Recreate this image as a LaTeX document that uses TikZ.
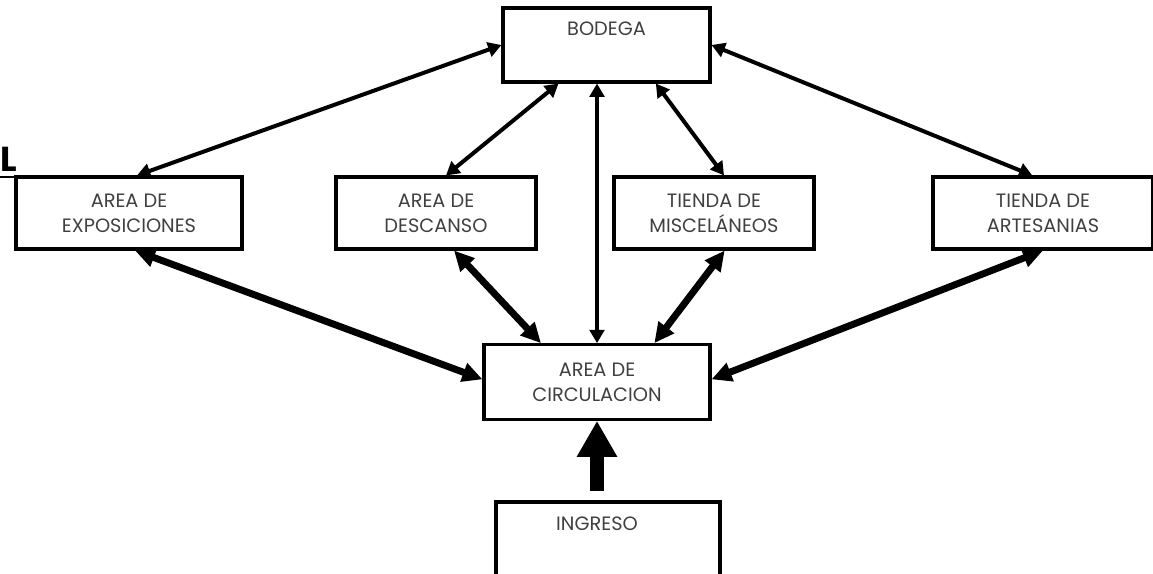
\documentclass[tikz,border=0pt]{standalone}
\usepackage{fontspec}
\setmainfont{Poppins}
\usetikzlibrary{arrows.meta,calc}
\begin{document}
\begin{tikzpicture}[x=0.75pt,y=-0.75pt,
  box/.style={draw, line width=2.3pt, minimum width=#1*0.75pt, minimum height=54pt,
    align=center, inner sep=0pt, font=\fontsize{14.5pt}{19pt}\selectfont, text=black!75},
  thinarrow/.style={line width=3pt, {Triangle[length=10pt,width=11pt]}-{Triangle[length=10pt,width=11pt]}},
  thickarrow/.style={line width=5.2pt, {Triangle[length=15pt,width=14pt]}-{Triangle[length=15pt,width=14pt]}},
  bigarrow/.style={line width=10.5pt, -{Triangle[length=27pt,width=28.5pt]}},
  lbl/.style={font=\fontsize{14.5pt}{19pt}\selectfont, text=black!75, inner sep=0pt}
]
\useasboundingbox (0,0) rectangle (1153,574);
% cut-off title fragment at the left edge
\node[anchor=south east, inner sep=0pt, font=\fontsize{26pt}{26pt}\selectfont\bfseries] (frag) at (17,172) {L};
\draw[line width=2.2pt] (0,177) -- (17,177);

\node[box=207, minimum height=55.5pt] (bod) at (606.5,45) {};
\node[lbl, anchor=north] (bodt) at (606.5,22) {BODEGA};

\node[box=226] (exp) at (129,213) {AREA DE\\EXPOSICIONES};
\node[box=200] (des) at (436,213) {AREA DE\\DESCANSO};
\node[box=200] (mis) at (714,213) {TIENDA DE\\MISCELÁNEOS};
\node[box=220] (art) at (1043,213) {TIENDA DE\\ARTESANIAS};

\node[box=226, minimum height=56pt] (cir) at (597,382) {AREA DE\\CIRCULACION};

\node[box=224, minimum height=75pt] (ing) at (608,552) {};
\node[lbl, anchor=north] (ingt) at (597,517) {INGRESO};

% thin arrows from BODEGA
\draw[thinarrow] (bod.west) -- ([xshift=6pt]exp.north);
\draw[thinarrow] ([xshift=-36pt]bod.south) -- ([xshift=7.5pt]des.north);
\draw[thinarrow] (cir.north |- bod.south) -- (cir.north);
\draw[thinarrow] ([xshift=37pt]bod.south) -- ([xshift=7.5pt]mis.north);
\draw[thinarrow] (bod.east) -- ([xshift=-8pt]art.north);

% thick arrows to CIRCULACION
\draw[thickarrow] ([xshift=4.5pt]exp.south) -- ([yshift=2pt]cir.west);
\draw[thickarrow] ([xshift=13.5pt]des.south) -- ([xshift=-42pt]cir.north);
\draw[thickarrow] ([xshift=8pt]mis.south) -- ([xshift=43pt]cir.north);
\draw[thickarrow] ([xshift=0pt]art.south) -- ([yshift=2pt]cir.east);

% entrance arrow
\draw[bigarrow] ($(cir.south |- ing.north)+(0,-9)$) -- (cir.south);
\end{tikzpicture}
\end{document}
